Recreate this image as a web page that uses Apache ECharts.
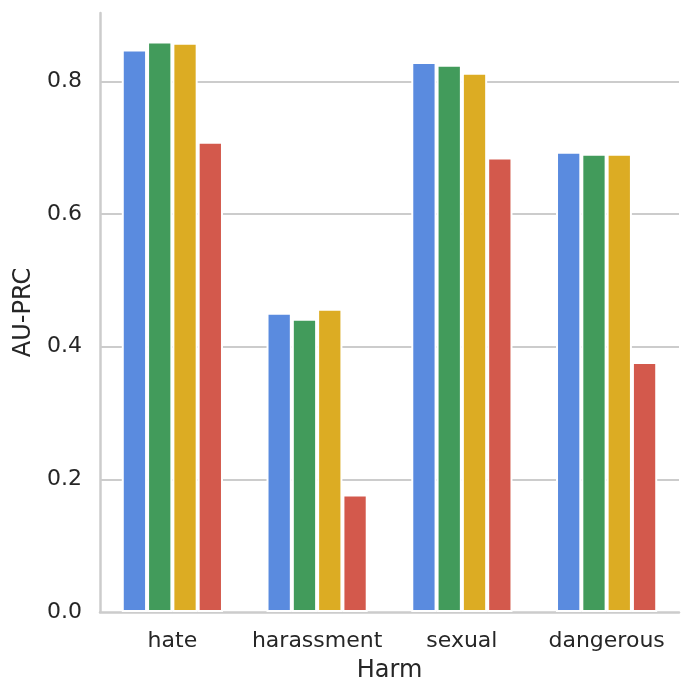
<!DOCTYPE html>
<html>
<head>
<meta charset="utf-8">
<script src="https://cdn.jsdelivr.net/npm/echarts@6/dist/echarts.min.js"></script>
<style>
html,body{margin:0;padding:0;background:#fff;}
#chart{width:691px;height:697px;}
</style>
</head>
<body>
<div id="chart"></div>
<script>
const categories = ['hate', 'harassment', 'sexual', 'dangerous'];
const seriesNames = ['Model 1', 'Model 2', 'Model 3', 'Model 4'];
const model1 = [0.848, 0.451, 0.829, 0.694];
const model2 = [0.860, 0.442, 0.825, 0.691];
const model3 = [0.858, 0.457, 0.813, 0.691];
const model4 = [0.709, 0.177, 0.685, 0.377];
const yTicks = [0.0, 0.2, 0.4, 0.6, 0.8];
const colors = ['#5A8BDF', '#429B5B', '#DCAC23', '#D3594C'];

const values = [model1, model2, model3, model4];
const font = 'DejaVu Sans';
const chart = echarts.init(document.getElementById('chart'), null, {renderer: 'canvas'});
chart.setOption({
  animation: false,
  backgroundColor: '#ffffff',
  grid: {left: 100, right: 12, top: 13, bottom: 85, containLabel: false},
  xAxis: {
    type: 'category',
    data: categories,
    name: 'Harm',
    nameLocation: 'middle',
    nameGap: 47,
    nameTextStyle: {fontFamily: font, fontSize: 24, color: '#262626'},
    axisLine: {show: true, lineStyle: {color: '#cccccc', width: 2.5}},
    axisTick: {show: false},
    axisLabel: {interval: 0, fontFamily: font, fontSize: 22, color: '#262626', margin: 18},
    splitLine: {show: false}
  },
  yAxis: {
    type: 'value',
    min: 0,
    max: 0.903,
    interval: 0.2,
    name: 'AU-PRC',
    nameLocation: 'middle',
    nameGap: 55,
    nameTextStyle: {fontFamily: font, fontSize: 24, color: '#262626'},
    axisLine: {show: true, lineStyle: {color: '#cccccc', width: 2.5}},
    axisTick: {show: false},
    axisLabel: {
      fontFamily: font, fontSize: 22, color: '#262626', margin: 18,
      showMaxLabel: false,
      formatter: function (v) {
        const t = yTicks.find(x => Math.abs(x - v) < 1e-6);
        return t === undefined ? '' : t.toFixed(1);
      }
    },
    splitLine: {show: true, showMinLine: false, showMaxLine: false, lineStyle: {color: '#cccccc', width: 2}}
  },
  series: seriesNames.map((n, i) => ({
    name: n,
    type: 'bar',
    data: values[i],
    barWidth: 25.3,
    barGap: '0%',
    itemStyle: {color: colors[i], borderColor: '#ffffff', borderWidth: 2}
  }))
});
</script>
</body>
</html>
